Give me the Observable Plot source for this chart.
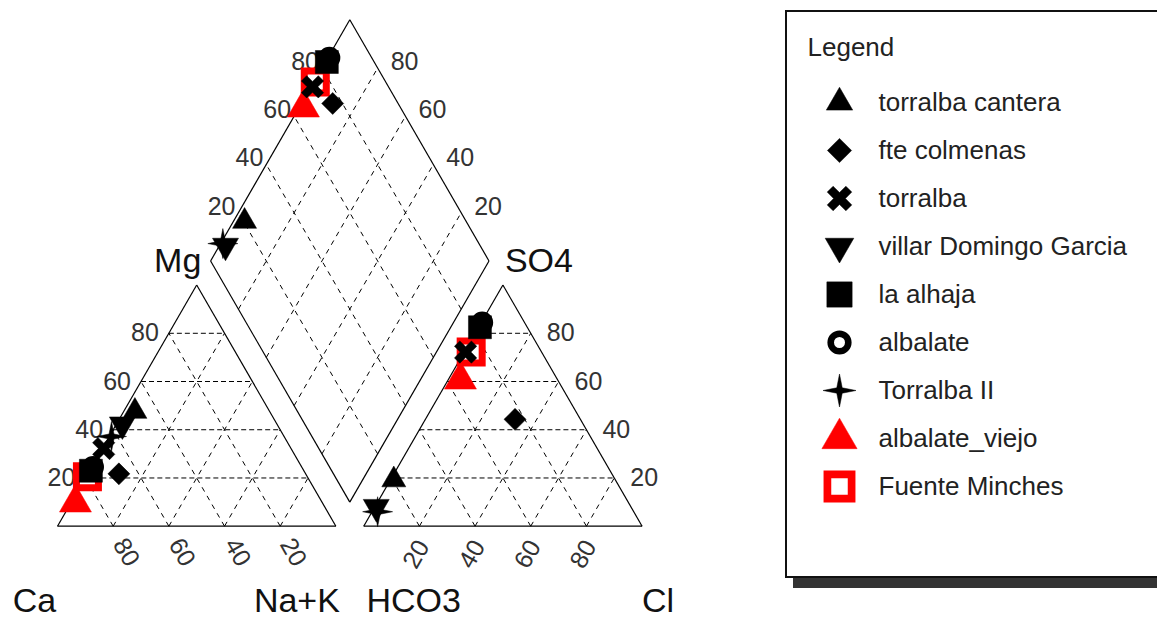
<!DOCTYPE html>
<html><head><meta charset="utf-8">
<script src="https://cdn.jsdelivr.net/npm/d3@7"></script>
<script src="https://cdn.jsdelivr.net/npm/@observablehq/plot@0.6"></script>
<style>
html,body{margin:0;padding:0;background:#fff}
body{width:1157px;height:619px;overflow:hidden;position:relative;font-family:"Liberation Sans",Arial,sans-serif}
#chart{position:absolute;left:0;top:0}
#legend{position:absolute;left:785px;top:10px;width:400px;height:564px;border:2px solid #111;background:#fff;box-shadow:8px 10px 0 #333}
</style></head><body>
<div id="chart"></div>
<div id="legend"></div>
<script>
// ---- data (percent) ----
const samples = ["torralba cantera","fte colmenas","torralba","villar Domingo Garcia","la alhaja","albalate","Torralba II","albalate_viejo","Fuente Minches"];
const Ca   = [48.4, 67.1, 67.3, 55.6, 76.5, 75.0, 62.0, 88.7, 79.0];
const Mg   = [47.6, 21.7, 32.2, 42.2, 23.0, 24.5, 37.2,  9.7, 20.5];
const NaK  = [ 4.0, 11.2,  0.5,  2.2,  0.5,  0.5,  0.8,  1.6,  0.5];
const HCO3 = [79.6, 23.5, 27.3, 91.5, 17.0, 15.2, 92.0, 34.9, 25.3];
const SO4  = [19.2, 44.3, 72.2,  8.0, 82.5, 84.5,  6.0, 60.7, 72.2];
const Cl   = [ 1.2, 32.2,  0.5,  0.5,  0.5,  0.3,  2.0,  4.4,  2.5];
const gridValues = [20, 40, 60, 80];
const cornerLabels = ["Ca", "Na+K", "Mg", "HCO3", "Cl", "SO4"];
const legendTitle = "Legend";

// ---- Piper geometry ----
const SIN60 = Math.sqrt(3) / 2, GAP = 10;
function cation(ca, mg, na) { const t = ca + mg + na; return [100 * (na + mg / 2) / t, 100 * mg * SIN60 / t]; }
function anion(hco3, so4, cl) { const t = hco3 + so4 + cl; return [100 + GAP + 100 * (cl + so4 / 2) / t, 100 * so4 * SIN60 / t]; }
function diamond(p, q) { return [100 + GAP / 2 + (q - p) / 2, GAP * SIN60 + (p + q) * SIN60]; }
const seg = (a, b) => ({x1: a[0], y1: a[1], x2: b[0], y2: b[1]});

const frame = [
  seg(cation(100,0,0), cation(0,0,100)), seg(cation(0,0,100), cation(0,100,0)), seg(cation(0,100,0), cation(100,0,0)),
  seg(anion(100,0,0), anion(0,0,100)), seg(anion(0,0,100), anion(0,100,0)), seg(anion(0,100,0), anion(100,0,0)),
  seg(diamond(0,0), diamond(100,0)), seg(diamond(100,0), diamond(100,100)), seg(diamond(100,100), diamond(0,100)), seg(diamond(0,100), diamond(0,0))
];
const gridH = gridValues.flatMap(v => [
  seg(cation(100 - v, v, 0), cation(0, v, 100 - v)),
  seg(anion(100 - v, v, 0), anion(0, v, 100 - v))
]);
const gridD = gridValues.flatMap(v => [
  seg(cation(100 - v, 0, v), cation(0, 100 - v, v)),
  seg(cation(v, 0, 100 - v), cation(v, 100 - v, 0)),
  seg(anion(100 - v, 0, v), anion(0, 100 - v, v)),
  seg(anion(v, 0, 100 - v), anion(v, 100 - v, 0)),
  seg(diamond(v, 0), diamond(v, 100)),
  seg(diamond(0, v), diamond(100, v))
]);

// points for each sample in the three fields
const rows = samples.flatMap((name, i) => {
  const c = cation(Ca[i], Mg[i], NaK[i]);
  const a = anion(HCO3[i], SO4[i], Cl[i]);
  const p = 100 * (Ca[i] + Mg[i]) / (Ca[i] + Mg[i] + NaK[i]);
  const q = 100 * (SO4[i] + Cl[i]) / (HCO3[i] + SO4[i] + Cl[i]);
  const d = diamond(p, q);
  return [{name, x: c[0], y: c[1]}, {name, x: a[0], y: a[1]}, {name, x: d[0], y: d[1]}];
});

// ---- marker symbols ----
function poly(pts) { return {draw(ctx) { ctx.moveTo(pts[0][0], pts[0][1]); for (const p of pts.slice(1)) ctx.lineTo(p[0], p[1]); ctx.closePath(); }}; }
const triUp = h => { const H = 1.732 * h; return poly([[0, -2 * H / 3], [h, H / 3], [-h, H / 3]]); };
const triDown = h => { const H = 1.732 * h; return poly([[0, 2 * H / 3], [h, -H / 3], [-h, -H / 3]]); };
const diam = h => poly([[0, -h], [h, 0], [0, h], [-h, 0]]);
const sq = h => poly([[-h, -h], [h, -h], [h, h], [-h, h]]);
const xCross = (h, t) => { const P = [[-t,-h],[t,-h],[t,-t],[h,-t],[h,t],[t,t],[t,h],[-t,h],[-t,t],[-h,t],[-h,-t],[-t,-t]]; const c = Math.SQRT1_2; return poly(P.map(([x, y]) => [c * (x - y), c * (x + y)])); };
const star4 = (h, r) => { const P = []; for (let k = 0; k < 8; k++) { const ang = -Math.PI / 2 + k * Math.PI / 4; const rr = k % 2 ? r : h; P.push([rr * Math.cos(ang), rr * Math.sin(ang)]); } return poly(P); };
const ring = h => ({draw(ctx) { ctx.moveTo(h, 0); ctx.arc(0, 0, h, 0, 2 * Math.PI); }});

const RED = "#f00";
const makeStyle = k => ({
  "torralba cantera":      {symbol: triUp(12 * k),        fill: "#000", stroke: "#000", sw: 0.5},
  "fte colmenas":          {symbol: diam(11 * k),         fill: "#000", stroke: "#000", sw: 0.5},
  "torralba":              {symbol: xCross(12 * k, 3.8 * k), fill: "#000", stroke: "#000", sw: 0.5},
  "villar Domingo Garcia": {symbol: triDown(13 * k),      fill: "#000", stroke: "#000", sw: 0.5},
  "la alhaja":             {symbol: sq(11.5 * k),         fill: "#000", stroke: "#000", sw: 0.5},
  "albalate":              {symbol: ring(8 * k),          fill: "#fff", stroke: "#000", sw: 6 * k},
  "Torralba II":           {symbol: star4(15 * k, 3.5 * k), fill: "#000", stroke: "#000", sw: 0.5},
  "albalate_viejo":        {symbol: triUp(16 * k),        fill: RED,    stroke: RED,    sw: 0.5},
  "Fuente Minches":        {symbol: sq(11 * k),           fill: "#fff", stroke: RED,    sw: 7 * k}
});
const style = makeStyle(1), legendStyle = makeStyle(1.1);

const tickFont = 25, tickFill = "#333";
const drawOrder = samples.slice().reverse();

const cornerPts = [cation(100,0,0), cation(0,0,100), cation(0,100,0), anion(100,0,0), anion(0,0,100), anion(0,100,0)];
const cornerOff = [[-23, 75], [-39, 75], [-19, -24], [50, 75], [16, 75], [36, -24]];

const chart = Plot.plot({
  width: 1157, height: 619,
  marginTop: 0, marginRight: 0, marginBottom: 0, marginLeft: 0,
  x: {domain: [0, 100 * 2 + GAP], range: [57, 641.6], axis: null},
  y: {domain: [0, diamond(100, 100)[1]], range: [525.7, 19.3], axis: null},
  style: {fontFamily: "'Liberation Sans', Arial, sans-serif", background: "transparent", overflow: "visible"},
  marks: [
    Plot.link(gridH, {x1: "x1", y1: "y1", x2: "x2", y2: "y2", stroke: "#000", strokeWidth: 1, strokeDasharray: "5,3"}),
    Plot.link(gridD, {x1: "x1", y1: "y1", x2: "x2", y2: "y2", stroke: "#000", strokeWidth: 1, strokeDasharray: "5,5"}),
    Plot.link(frame, {x1: "x1", y1: "y1", x2: "x2", y2: "y2", stroke: "#000", strokeWidth: 1.2}),
    // tick labels
    Plot.text(gridValues, {x: v => cation(100 - v, v, 0)[0], y: v => cation(100 - v, v, 0)[1], text: v => String(v), textAnchor: "end", dx: -10, fontSize: tickFont, fill: tickFill}),
    Plot.text(gridValues, {x: v => cation(100 - v, 0, v)[0], y: v => cation(100 - v, 0, v)[1], text: v => String(100 - v), rotate: 60, dx: 13, dy: 26, fontSize: tickFont, fill: tickFill}),
    Plot.text(gridValues, {x: v => anion(100 - v, 0, v)[0], y: v => anion(100 - v, 0, v)[1], text: v => String(v), rotate: -60, dx: -3, dy: 28, fontSize: tickFont, fill: tickFill}),
    Plot.text(gridValues, {x: v => anion(0, v, 100 - v)[0], y: v => anion(0, v, 100 - v)[1], text: v => String(v), textAnchor: "start", dx: 16, fontSize: tickFont, fill: tickFill}),
    Plot.text(gridValues, {x: v => diamond(100, v)[0], y: v => diamond(100, v)[1], text: v => String(v), textAnchor: "end", dx: -3, dy: -6, fontSize: tickFont, fill: tickFill}),
    Plot.text(gridValues, {x: v => diamond(v, 100)[0], y: v => diamond(v, 100)[1], text: v => String(v), textAnchor: "start", dx: 13, dy: -6, fontSize: tickFont, fill: tickFill}),
    // corner labels
    ...cornerLabels.map((lab, i) => Plot.text([lab], {x: () => cornerPts[i][0], y: () => cornerPts[i][1], text: d => d, dx: cornerOff[i][0], dy: cornerOff[i][1], fontSize: 34, fill: "#111"})),
    // samples
    ...drawOrder.map(name => { const s = style[name]; return Plot.dot(rows.filter(d => d.name === name), {x: "x", y: "y", r: 1, symbol: s.symbol, fill: s.fill, stroke: s.stroke, strokeWidth: s.sw}); })
  ]
});
document.getElementById("chart").append(chart);

// ---- legend ----
const legend = Plot.plot({
  width: 400, height: 564,
  marginTop: 0, marginRight: 0, marginBottom: 0, marginLeft: 0,
  y: {type: "point", domain: samples, range: [88, 476], padding: 0, axis: null},
  style: {fontFamily: "'Liberation Sans', Arial, sans-serif", background: "transparent", overflow: "visible"},
  marks: [
    Plot.text([legendTitle], {frameAnchor: "top-left", text: d => d, textAnchor: "start", lineAnchor: "top", dx: 20, dy: 25, fontSize: 26, fill: "#222"}),
    Plot.text(samples, {y: d => d, text: d => d, frameAnchor: "left", textAnchor: "start", dx: 91, fontSize: 26, fill: "#222"}),
    ...samples.map(name => { const s = legendStyle[name]; return Plot.dot([name], {y: d => d, frameAnchor: "left", dx: 52, r: 1, symbol: s.symbol, fill: s.fill, stroke: s.stroke, strokeWidth: s.sw}); })
  ]
});
document.getElementById("legend").append(legend);
</script>
</body></html>
